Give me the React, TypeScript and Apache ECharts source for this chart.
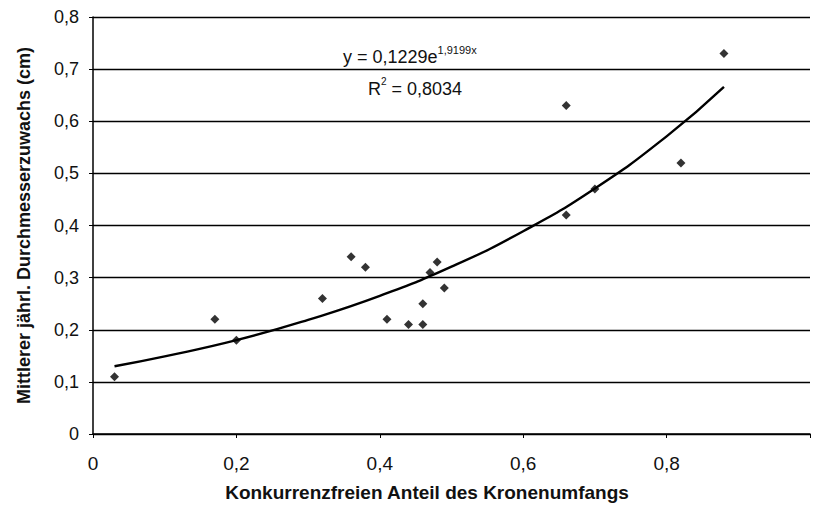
import React, { useEffect, useRef } from "react";
import * as echarts from "echarts";

// Observed points (Konkurrenzfreier Anteil, Zuwachs cm)
const xValues = [0.03, 0.17, 0.2, 0.32, 0.36, 0.38, 0.41, 0.44, 0.46, 0.46, 0.47, 0.48, 0.49, 0.66, 0.66, 0.7, 0.82, 0.88];
const yValues = [0.11, 0.22, 0.18, 0.26, 0.34, 0.32, 0.22, 0.21, 0.21, 0.25, 0.31, 0.33, 0.28, 0.63, 0.42, 0.47, 0.52, 0.73];

// Trend curve
const trendX = [0.03, 0.1, 0.2, 0.3, 0.4, 0.5, 0.6, 0.7, 0.8, 0.88];
const trendY = [0.13, 0.149, 0.18, 0.219, 0.265, 0.321, 0.389, 0.471, 0.571, 0.666];

const yTicks = [0, 0.1, 0.2, 0.3, 0.4, 0.5, 0.6, 0.7, 0.8];
const xTickLabels = ["0", "0,2", "0,4", "0,6", "0,8"];

const FONT = "'Liberation Sans', Arial, sans-serif";

export default function App() {
  const ref = useRef<HTMLDivElement>(null);
  useEffect(() => {
    document.body.style.margin = "0";
    const chart = echarts.init(ref.current!, null, { renderer: "svg" });
    const fmt = (v: number) => (v === 0 ? "0" : v.toFixed(1).replace(".", ","));
    chart.setOption({
      animation: false,
      backgroundColor: "#ffffff",
      textStyle: { fontFamily: FONT },
      grid: { left: 93, top: 17, width: 725, height: 417, containLabel: false },
      xAxis: {
        type: "value",
        min: 0,
        max: 1,
        interval: 0.2,
        axisLine: { show: true, lineStyle: { color: "#000", width: 1.5 } },
        axisTick: { show: true, inside: false, length: 4, lineStyle: { color: "#000" } },
        splitLine: { show: false },
        axisLabel: {
          color: "#111",
          fontSize: 19,
          fontFamily: FONT,
          margin: 20,
          formatter: (v: number) => {
            const i = Math.round(v / 0.2);
            return i < xTickLabels.length ? xTickLabels[i] : "";
          },
        },
      },
      yAxis: {
        type: "value",
        min: yTicks[0],
        max: yTicks[yTicks.length - 1],
        interval: 0.1,
        name: "Mittlerer jährl. Durchmesserzuwachs (cm)",
        nameLocation: "middle",
        nameGap: 60,
        nameTextStyle: { color: "#111", fontSize: 18, fontWeight: "bold", fontFamily: FONT },
        axisLine: { show: true, lineStyle: { color: "#000", width: 1.5 } },
        axisTick: { show: true, inside: false, length: 4, lineStyle: { color: "#000" } },
        splitLine: { show: true, lineStyle: { color: "#000", width: 1.3 } },
        axisLabel: { color: "#111", fontSize: 18, fontFamily: FONT, margin: 14, formatter: fmt },
      },
      graphic: [
        {
          type: "text",
          x: 427,
          y: 492,
          style: {
            text: "Konkurrenzfreien Anteil des Kronenumfangs",
            fill: "#111",
            font: `bold 19px ${FONT}`,
            align: "center",
            verticalAlign: "middle",
          },
        },
        {
          type: "text",
          x: 343,
          y: 44,
          style: {
            text: "{a|y = 0,1229e}{b|1,9199x}",
            rich: {
              a: { fontSize: 18, fill: "#111", fontFamily: FONT, verticalAlign: "bottom", lineHeight: 22 },
              b: { fontSize: 11, fill: "#111", fontFamily: FONT, verticalAlign: "top", lineHeight: 22 },
            },
          },
        },
        {
          type: "text",
          x: 368,
          y: 76,
          style: {
            text: "{a|R}{b|2}{a| = 0,8034}",
            rich: {
              a: { fontSize: 18, fill: "#111", fontFamily: FONT, verticalAlign: "bottom", lineHeight: 22 },
              b: { fontSize: 10, fill: "#111", fontFamily: FONT, verticalAlign: "top", lineHeight: 22 },
            },
          },
        },
      ],
      series: [
        {
          type: "line",
          data: trendX.map((x, i) => [x, trendY[i]]),
          smooth: true,
          showSymbol: false,
          symbol: "none",
          lineStyle: { color: "#000", width: 2.4 },
          z: 3,
        },
        {
          type: "scatter",
          data: xValues.map((x, i) => [x, yValues[i]]),
          symbol: "diamond",
          symbolSize: 9,
          itemStyle: { color: "#000" },
          z: 4,
        },
      ],
    });
    return () => chart.dispose();
  }, []);
  return <div ref={ref} style={{ width: 813, height: 513 }} />;
}
